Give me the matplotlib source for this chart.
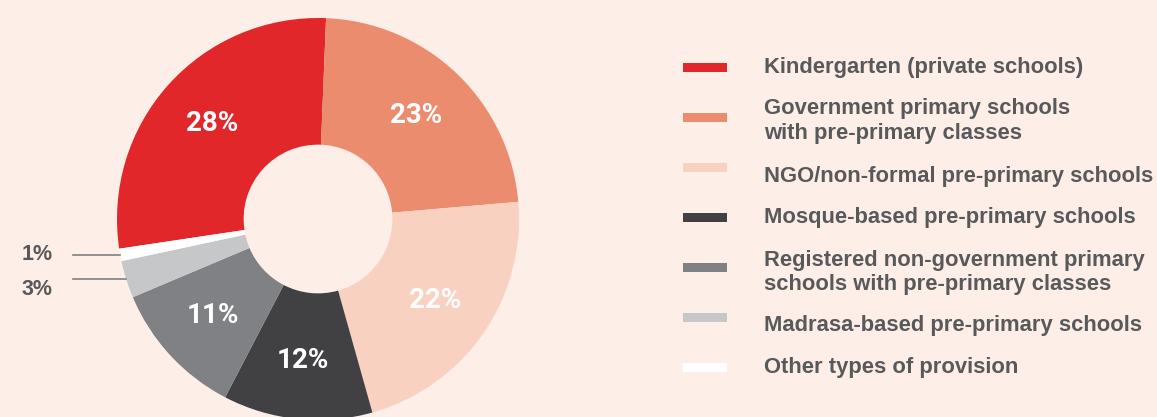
import numpy as np
import matplotlib.pyplot as plt
from matplotlib.patches import Rectangle

plt.rcParams['font.family'] = ['Roboto', 'DejaVu Sans']

categories = [
    'Kindergarten (private schools)',
    'Government primary schools\nwith pre-primary classes',
    'NGO/non-formal pre-primary schools',
    'Mosque-based pre-primary schools',
    'Registered non-government primary\nschools with pre-primary classes',
    'Madrasa-based pre-primary schools',
    'Other types of provision',
]
shares = [28, 23, 22, 12, 11, 3, 1]
colors = ['#E1272A', '#EC8C6F', '#F8D1C1', '#414042', '#808184', '#C6C7C9', '#FFFFFF']

BG = '#FDEEE8'
GREY = '#58595B'
LABEL_FONT = ['Liberation Sans', 'DejaVu Sans']

W, H = 1157, 417
fig = plt.figure(figsize=(W / 100, H / 100), dpi=100, facecolor=BG)

# donut: centre (318, 219) px, radius 201 px
cx, cy, R = 318, 219, 201
ax = fig.add_axes([0, 0, 560 / W, 1])
ax.set_facecolor(BG)
wedges, _, autotexts = ax.pie(
    shares, colors=colors, startangle=188.5, counterclock=False,
    radius=1.0, wedgeprops=dict(width=0.63, linewidth=0),
    autopct=lambda p: f'{p:.0f}%' if p >= 5 else '', pctdistance=0.71,
    textprops=dict(color='white', fontsize=20, fontweight='bold'))
ax.set_aspect('auto')
ax.set_xlim(-cx / R, (560 - cx) / R)
ax.set_ylim(-(H - cy) / R, cy / R)
ax.axis('off')

# small slices labelled outside with leader lines
for w, s in zip(wedges, shares):
    if s >= 5:
        continue
    mid = np.deg2rad((w.theta1 + w.theta2) / 2)
    x_edge, y_edge = np.cos(mid), np.sin(mid)
    ax.plot([-1.22, x_edge], [y_edge, y_edge], color='#808184', lw=1.2)
    ax.text(-1.32, y_edge - (0.0 if s == 1 else 0.05), f'{s}%', ha='right', va='center',
            fontsize=15.5, fontweight='bold', color=GREY, family=LABEL_FONT)

# legend drawn in pixel coordinates
lg = fig.add_axes([0, 0, 1, 1])
lg.set_xlim(0, W)
lg.set_ylim(H, 0)
lg.axis('off')
lg.patch.set_alpha(0)
text_dy = [0, 4, 9, 0, 5.5, 9, 1]
for i, (lab, col) in enumerate(zip(categories, colors)):
    y = 67 + 50 * i
    lg.add_patch(Rectangle((683, y - 4.5), 44, 9, facecolor=col, edgecolor='none'))
    lg.text(764, y + text_dy[i], lab, ha='left', va='center', fontsize=15.8,
            fontweight='bold', color=GREY, linespacing=1.2, family=LABEL_FONT)

fig.savefig('out.png', dpi=100, facecolor=BG)
